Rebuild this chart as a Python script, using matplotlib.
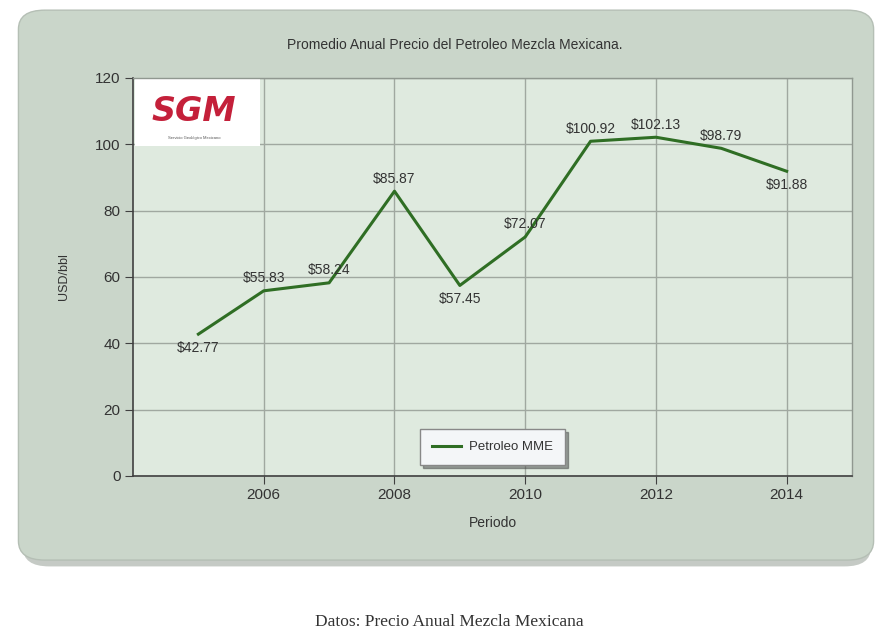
import matplotlib
matplotlib.use("Agg")
import matplotlib.pyplot as plt
from matplotlib.patches import FancyBboxPatch, Rectangle

years = [2005, 2006, 2007, 2008, 2009, 2010, 2011, 2012, 2013, 2014]
prices = [42.77, 55.83, 58.24, 85.87, 57.45, 72.07, 100.92, 102.13, 98.79, 91.88]
label_pos = ["below", "above", "above", "above", "below", "above", "above", "above", "above", "below"]
x_ticks = [2006, 2008, 2010, 2012, 2014]
y_ticks = [0, 20, 40, 60, 80, 100, 120]

plt.rcParams["font.family"] = ["Liberation Sans", "DejaVu Sans"]

fig = plt.figure(figsize=(8.78, 6.35), dpi=100)
fig.patch.set_facecolor("white")

# shadow + rounded panel
shadow = FancyBboxPatch((0.026, 0.108), 0.966, 0.862,
                        boxstyle="round,pad=0,rounding_size=0.03",
                        transform=fig.transFigure, facecolor="#9fa89f",
                        edgecolor="none", alpha=0.6, zorder=-2)
fig.patches.append(shadow)
panel = FancyBboxPatch((0.021, 0.118), 0.974, 0.866,
                       boxstyle="round,pad=0,rounding_size=0.03",
                       transform=fig.transFigure, facecolor="#cad6ca",
                       edgecolor="#b5bfb5", linewidth=1.0, zorder=-1)
fig.patches.append(panel)

ax = fig.add_axes([0.1515, 0.2504, 0.8189, 0.6268])
ax.set_zorder(1)
ax.set_facecolor("#dfeadf")
ax.set_xlim(2004, 2015)
ax.set_ylim(0, 120)
ax.set_xticks(x_ticks)
ax.set_yticks(y_ticks)
ax.grid(True, color="#a0a8a0", linewidth=1.0)
ax.set_axisbelow(True)
for s in ["left", "bottom"]:
    ax.spines[s].set_color("#404040")
    ax.spines[s].set_linewidth(1.2)
for s in ["top", "right"]:
    ax.spines[s].set_color("#909890")
    ax.spines[s].set_linewidth(1.0)
ax.tick_params(axis="both", direction="out", length=6, color="#404040",
               labelsize=11, labelcolor="#333333", pad=3)

ax.plot(years, prices, color="#2f6e24", linewidth=2.2, label="Petroleo MME", zorder=3)

for x, y, pos in zip(years, prices, label_pos):
    off = 9 if pos == "above" else -10
    ax.annotate(f"${y:.2f}", (x, y), xytext=(0, off), textcoords="offset points",
                ha="center", va="center", fontsize=10, color="#333333", zorder=4)

# logo box
ax.add_patch(Rectangle((0.003, 0.83), 0.174, 0.168, transform=ax.transAxes,
                       facecolor="white", edgecolor="none", zorder=2))
ax.text(0.085, 0.915, "SGM", transform=ax.transAxes, ha="center", va="center",
        fontsize=24, fontweight="bold", fontstyle="italic", color="#c4203a",
        family="DejaVu Sans", zorder=3)
ax.text(0.085, 0.85, "Servicio Geológico Mexicano", transform=ax.transAxes,
        ha="center", va="center", fontsize=3, color="#555555", zorder=3)

ax.set_xlabel("Periodo", fontsize=10, color="#333333", labelpad=10)
ax.set_ylabel("USD/bbl", fontsize=9, color="#333333", labelpad=18)

leg = ax.legend(loc="center", bbox_to_anchor=(0.5, 0.072), fontsize=9.5,
                frameon=True, fancybox=False, shadow=True, handlelength=2.2,
                borderpad=0.9, handletextpad=0.6, borderaxespad=0)
leg.get_frame().set_facecolor("#f4f6f8")
leg.get_frame().set_edgecolor("#888888")
for t in leg.get_texts():
    t.set_color("#333333")

fig.text(0.518, 0.929, "Promedio Anual Precio del Petroleo Mezcla Mexicana.",
         ha="center", va="center", fontsize=10, color="#333333")

fig.text(0.512, 0.02, "Datos: Precio Anual Mezcla Mexicana", ha="center",
         va="center", fontsize=12.5, family="Liberation Serif", color="#333333")

fig.savefig("out.png", dpi=100, facecolor=fig.get_facecolor())
